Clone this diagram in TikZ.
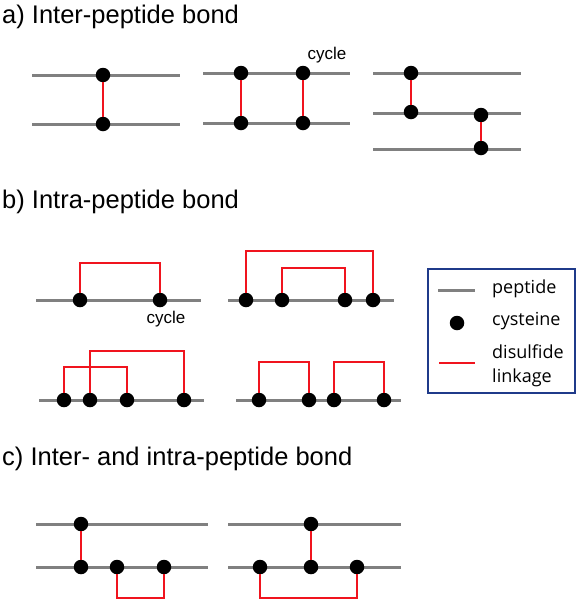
\documentclass[tikz,border=0pt]{standalone}
\usepackage{fontspec}
\setmainfont{Liberation Sans}
\newfontfamily\legfont{Open Sans}
\begin{document}
\begin{tikzpicture}[x=1pt,y=-1pt,
  pep/.style={draw=pepgray,line width=3pt},
  cys/.style={circle,fill=black,inner sep=0pt,minimum size=14.5pt},
  link/.style={draw=linkred,line width=1.8pt},
  title/.style={anchor=base west,inner sep=0pt,font=\fontsize{25.5}{30}\selectfont},
  lbl/.style={anchor=base,inner sep=0pt,font=\fontsize{17}{20}\selectfont},
  legtext/.style={anchor=base west,inner sep=0pt,font=\legfont\fontsize{18}{21}\selectfont}]
\definecolor{pepgray}{HTML}{808080}
\definecolor{linkred}{HTML}{F0141E}
\definecolor{legblue}{HTML}{1F3A8A}
\useasboundingbox (0,0) rectangle (577,600);

% ---------- titles ----------
\node[title] (ta) at (2,23) {a) Inter-peptide bond};
\node[title] (tb) at (2,208) {b) Intra-peptide bond};
\node[title] (tc) at (2,465) {c) Inter- and intra-peptide bond};

% ---------- a) ----------
\draw[pep] (32,75) -- (180,75);
\draw[pep] (32,124) -- (180,124);
\node[cys] (a1t) at (103,75) {};
\node[cys] (a1b) at (103,124) {};
\draw[link] (a1t) -- (a1b);

\draw[pep] (203,73) -- (350,73);
\draw[pep] (203,123) -- (350,123);
\node[cys] (a2t1) at (241,73) {};
\node[cys] (a2b1) at (241,123) {};
\node[cys] (a2t2) at (303,73) {};
\node[cys] (a2b2) at (303,123) {};
\draw[link] (a2t1) -- (a2b1);
\draw[link] (a2t2) -- (a2b2);
\node[lbl] (cyca) at (327,59) {cycle};

\draw[pep] (373,73) -- (521,73);
\draw[pep] (373,113) -- (521,113);
\draw[pep] (373,149) -- (521,149);
\node[cys] (a3a) at (411,73) {};
\node[cys] (a3b) at (411,112) {};
\node[cys] (a3c) at (481,115) {};
\node[cys] (a3d) at (481,148) {};
\draw[link] (a3a) -- (a3b);
\draw[link] (a3c) -- (a3d);

% ---------- b) ----------
\draw[pep] (36,300) -- (201,300);
\node[cys] (b1a) at (80,300) {};
\node[cys] (b1b) at (160,300) {};
\draw[link] (b1a) -- ++(0,-37) -| (b1b);
\node[lbl] (cycb) at (166,323) {cycle};

\draw[pep] (228,300) -- (394,300);
\node[cys] (b2a) at (246,300) {};
\node[cys] (b2b) at (282,300) {};
\node[cys] (b2c) at (345,300) {};
\node[cys] (b2d) at (373,300) {};
\draw[link] (b2a) -- ++(0,-49) -| (b2d);
\draw[link] (b2b) -- ++(0,-32) -| (b2c);

\draw[pep] (39,400) -- (204,400);
\node[cys] (b3a) at (64,400) {};
\node[cys] (b3b) at (90,400) {};
\node[cys] (b3c) at (127,400) {};
\node[cys] (b3d) at (184,400) {};
\draw[link] (b3a) -- ++(0,-33) -| (b3c);
\draw[link] (b3b) -- ++(0,-49) -| (b3d);

\draw[pep] (236,400) -- (401,400);
\node[cys] (b4a) at (259,400) {};
\node[cys] (b4b) at (309,400) {};
\node[cys] (b4c) at (334,400) {};
\node[cys] (b4d) at (384,400) {};
\draw[link] (b4a) -- ++(0,-38) -| (b4b);
\draw[link] (b4c) -- ++(0,-38) -| (b4d);

% ---------- legend ----------
\node[draw=legblue,line width=2pt,minimum width=147pt,minimum height=124pt,inner sep=0pt] (leg) at (501.5,331) {};
\draw[pep] (438,290) -- (475,290);
\node[cys] (legdot) at (457,323) {};
\draw[link] (439,363) -- (475,363);
\node[legtext] (lp) at (492,293) {peptide};
\node[legtext] (lc) at (492,325) {cysteine};
\node[legtext] (ld) at (492,358) {disulfide};
\node[legtext] (ll) at (492,382) {linkage};

% ---------- c) ----------
\draw[pep] (36,524) -- (208,524);
\draw[pep] (36,567) -- (208,567);
\node[cys] (c1t) at (81,524) {};
\node[cys] (c1a) at (81,567) {};
\node[cys] (c1b) at (117,567) {};
\node[cys] (c1c) at (164,567) {};
\draw[link] (c1t) -- (c1a);
\draw[link] (c1b) -- ++(0,31) -| (c1c);

\draw[pep] (228,524) -- (401,524);
\draw[pep] (228,567) -- (401,567);
\node[cys] (c2t) at (311,524) {};
\node[cys] (c2a) at (260,567) {};
\node[cys] (c2b) at (311,567) {};
\node[cys] (c2c) at (357,567) {};
\draw[link] (c2t) -- (c2b);
\draw[link] (c2a) -- ++(0,31) -| (c2c);
\end{tikzpicture}
\end{document}
